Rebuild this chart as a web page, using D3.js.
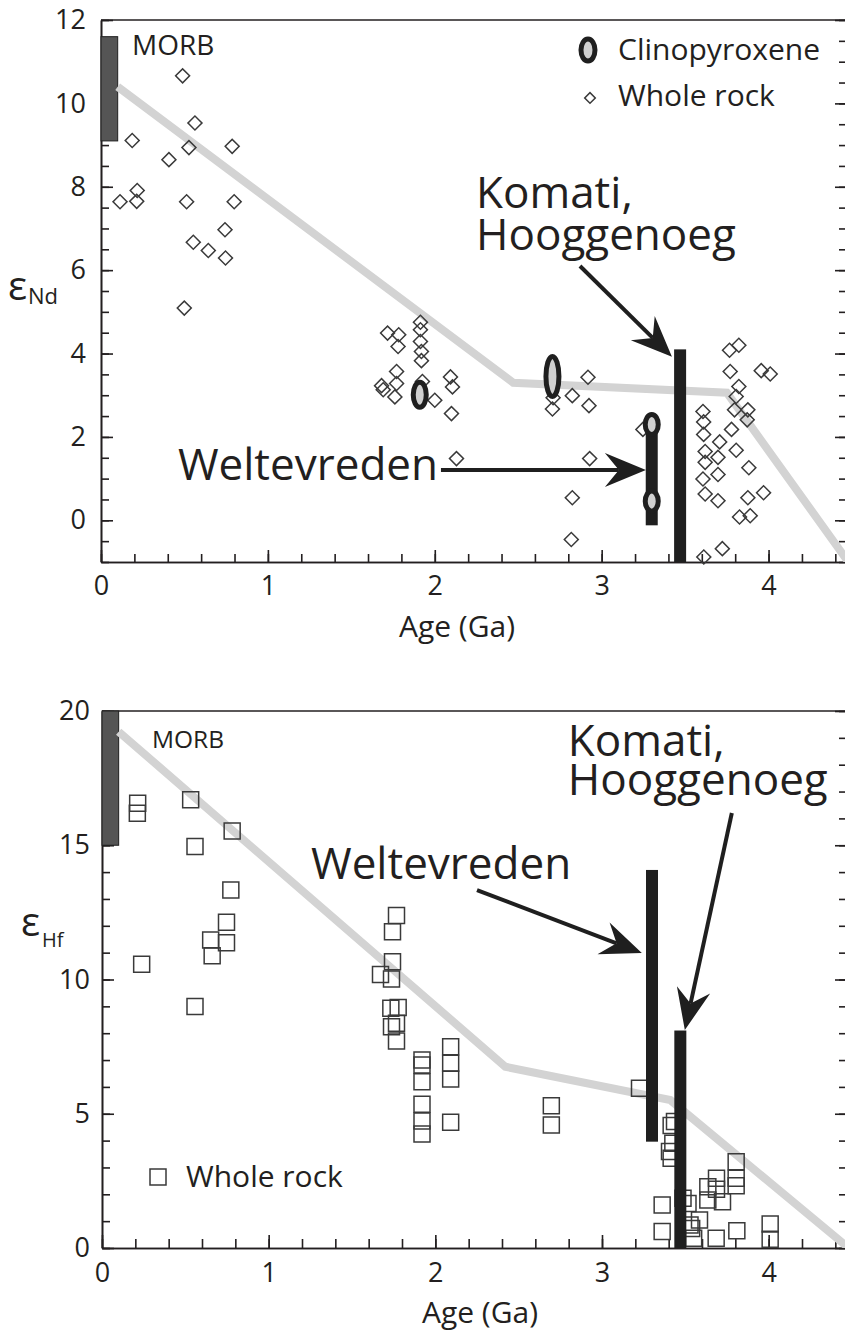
<!DOCTYPE html>
<html>
<head>
<meta charset="utf-8">
<script src="https://cdn.jsdelivr.net/npm/d3@7"></script>
<style>
  body { margin: 0; background: #fff; }
  svg { display: block; font-family: "Open Sans", sans-serif; }
  .axis path, .axis line { stroke: #231f20; stroke-width: 1.6px; }
  .axis text { font-size: 27px; fill: #231f20; font-family: "Open Sans", sans-serif; }
  .frame { stroke: #231f20; stroke-width: 1.6px; }
  .dm { fill: none; stroke: #d3d3d3; stroke-width: 8px; }
  .wr { fill: none; stroke: #3a3a3a; stroke-width: 1.5px; }
  .bar { fill: #1f1f1f; }
  .cpx { fill: #d0d0d0; stroke: #1f1f1f; stroke-width: 5px; }
  .morb { fill: #555; stroke: #1f1f1f; stroke-width: 1px; }
  .lbl { fill: #231f20; }
  .arrow line { stroke: #1f1f1f; stroke-width: 4px; }
  .arrow path { fill: #1f1f1f; }
</style>
</head>
<body>
<svg id="chart" width="845" height="1331"></svg>
<script>
// ---- shared x axis (age, Ga) ----
const ageDomain = [0, 4.47];
const ageMajor = [0, 1, 2, 3, 4];
const ageMinor = d3.range(0, 4.41, 0.2);

// ---- top panel: eps Nd ----
const ndDomain = [-1, 12];
const ndMajor = [0, 2, 4, 6, 8, 10, 12];
const ndMinor = d3.range(-1, 12.01, 0.5);
const ndMorb = [9.1, 11.6];
const ndMantle = [[0.1, 10.4], [2.47, 3.3], [3.75, 3.06], [4.5, -1.12]];
const ndWholeRock = [
  [0.187, 9.11], [0.489, 10.66], [0.563, 9.53], [0.527, 8.94], [0.407, 8.65], [0.786, 8.97],
  [0.114, 7.64], [0.217, 7.91], [0.214, 7.65], [0.513, 7.64], [0.798, 7.64], [0.743, 6.97],
  [0.553, 6.67], [0.643, 6.47], [0.746, 6.29], [0.499, 5.09],
  [1.914, 4.75], [1.717, 4.49], [1.784, 4.45], [1.914, 4.57], [1.914, 4.29], [1.780, 4.17],
  [1.920, 4.05], [1.920, 3.83], [1.771, 3.57], [1.681, 3.23], [1.691, 3.13], [1.771, 3.28],
  [1.761, 2.96], [1.926, 3.33], [2.000, 2.88], [2.094, 3.44], [2.106, 3.20], [2.100, 2.56],
  [2.130, 1.48],
  [2.709, 2.94], [2.705, 2.67], [2.824, 2.99], [2.824, 0.54], [2.818, -0.46], [2.918, 3.43],
  [2.924, 2.75], [2.928, 1.48], [3.247, 2.18],
  [3.766, 4.08], [3.822, 4.20], [3.770, 3.57], [3.956, 3.59], [4.010, 3.51], [3.822, 3.21],
  [3.806, 2.97], [3.796, 2.65], [3.876, 2.65], [3.872, 2.41], [3.607, 2.61], [3.611, 2.36],
  [3.611, 2.06], [3.778, 2.18], [3.707, 1.88], [3.620, 1.65], [3.697, 1.51], [3.806, 1.68],
  [3.620, 1.39], [3.697, 1.10], [3.607, 0.99], [3.882, 1.26], [3.620, 0.63], [3.697, 0.47],
  [3.876, 0.54], [3.970, 0.66], [3.826, 0.08], [3.890, 0.11], [3.723, -0.68], [3.612, -0.88]
];
// age, eps, half height of the ellipse
const ndCpx = [[1.91, 3.01, 0.30], [2.705, 3.45, 0.48], [3.30, 2.30, 0.24], [3.30, 0.46, 0.24]];
// age, low, high
const ndRanges = [[3.30, -0.12, 2.30], [3.47, -1, 4.1]];

// ---- bottom panel: eps Hf ----
const hfDomain = [0, 20];
const hfMajor = [0, 5, 10, 15, 20];
const hfMinor = d3.range(0, 20.01, 1);
const hfMorb = [15, 20];
const hfMantle = [[0.1, 19.23], [2.42, 6.75], [3.41, 5.51], [4.5, -0.1]];
const hfWholeRock = [
  [0.214, 16.56], [0.212, 16.19], [0.532, 16.69], [0.558, 14.95], [0.781, 15.53], [0.773, 13.33],
  [0.747, 12.13], [0.747, 11.37], [0.652, 11.47], [0.661, 10.88], [0.238, 10.57], [0.558, 8.99],
  [1.767, 12.38], [1.743, 11.78], [1.743, 10.66], [1.671, 10.19], [1.737, 10.02], [1.777, 8.96],
  [1.733, 8.93], [1.767, 8.37], [1.737, 8.24], [1.767, 7.71],
  [1.92, 7.00], [1.92, 6.82], [1.92, 6.19], [1.92, 5.35], [1.92, 4.73], [1.92, 4.25],
  [2.092, 7.50], [2.092, 6.88], [2.092, 6.29], [2.092, 4.68], [2.696, 5.30], [2.696, 4.58],
  [3.225, 5.95], [3.435, 4.71], [3.415, 4.56], [3.425, 3.90], [3.405, 3.59], [3.415, 3.34],
  [3.361, 1.60], [3.361, 0.61], [3.486, 1.85], [3.516, 1.66], [3.528, 0.86], [3.538, 0.73],
  [3.585, 1.04], [3.550, 0.36], [3.635, 2.28], [3.635, 1.79], [3.687, 2.60], [3.687, 2.19],
  [3.723, 1.72], [3.805, 3.21], [3.805, 2.60], [3.805, 2.32], [3.685, 0.36], [3.809, 0.64],
  [4.009, 0.89], [4.009, 0.33]
];
const hfRanges = [[3.30, 3.96, 14.08], [3.47, 0, 8.1]];

const svg = d3.select("#chart");

function arrow(g, x, y, from, to) {
  const x1 = x(from[0]), y1 = y(from[1]), x2 = x(to[0]), y2 = y(to[1]);
  const len = Math.hypot(x2 - x1, y2 - y1), ux = (x2 - x1) / len, uy = (y2 - y1) / len;
  const L = 41, w = 17, notch = 27;
  const bx = x2 - ux * L, by = y2 - uy * L;
  const head = [[x2, y2], [bx - uy * w, by + ux * w], [x2 - ux * notch, y2 - uy * notch], [bx + uy * w, by - ux * w]];
  const a = g.append("g").attr("class", "arrow");
  a.append("line").attr("x1", x1).attr("y1", y1)
    .attr("x2", x2 - ux * notch).attr("y2", y2 - uy * notch);
  a.append("path").attr("d", "M" + head.join("L") + "Z");
}

function text(g, x, y, pos, str, size) {
  return g.append("text").attr("class", "lbl")
    .attr("x", x(pos[0])).attr("y", y(pos[1]))
    .style("font-size", size + "px").text(str);
}

function panel(p) {
  const x = d3.scaleLinear().domain(ageDomain).range([p.left, p.right]);
  const y = d3.scaleLinear().domain(p.yDomain).range([p.bottom, p.top]);
  const g = svg.append("g");

  svg.append("clipPath").attr("id", "clip-" + p.id).append("rect")
    .attr("x", p.left).attr("y", p.top)
    .attr("width", p.right - p.left).attr("height", p.bottom - p.top);

  // axes, ticks pointing inward
  g.append("g").attr("class", "axis").attr("transform", `translate(0,${p.bottom})`)
    .call(d3.axisBottom(x).tickValues(ageMinor).tickSize(-p.xMinorLen).tickSizeOuter(0).tickFormat(""));
  g.append("g").attr("class", "axis").attr("transform", `translate(0,${p.bottom})`)
    .call(d3.axisBottom(x).tickValues(ageMajor).tickSize(-p.xMajorLen).tickSizeOuter(0)
      .tickPadding(p.xPad).tickFormat(d3.format("d")));
  g.append("g").attr("class", "axis").attr("transform", `translate(${p.left},0)`)
    .call(d3.axisLeft(y).tickValues(p.yMinor).tickSize(-8).tickSizeOuter(0).tickFormat(""));
  g.append("g").attr("class", "axis").attr("transform", `translate(${p.left},0)`)
    .call(d3.axisLeft(y).tickValues(p.yMajor).tickSize(-12).tickSizeOuter(0)
      .tickPadding(p.yPad).tickFormat(d3.format("d")));
  g.append("g").attr("class", "axis").attr("transform", `translate(${p.right},0)`)
    .call(d3.axisRight(y).tickValues(p.yMinor).tickSize(-8).tickSizeOuter(0).tickFormat(""));
  g.append("g").attr("class", "axis").attr("transform", `translate(${p.right},0)`)
    .call(d3.axisRight(y).tickValues(p.yMajor).tickSize(-12).tickSizeOuter(0).tickFormat(""));
  g.append("line").attr("class", "frame")
    .attr("x1", p.left).attr("x2", p.right).attr("y1", p.top).attr("y2", p.top);

  // MORB range
  g.append("rect").attr("class", "morb")
    .attr("x", x(0)).attr("width", x(0.1) - x(0))
    .attr("y", y(p.morb[1])).attr("height", y(p.morb[0]) - y(p.morb[1]));

  // depleted mantle evolution
  g.append("path").datum(p.mantle).attr("class", "dm")
    .attr("clip-path", `url(#clip-${p.id})`)
    .attr("d", d3.line().x(d => x(d[0])).y(d => y(d[1])));

  // whole rock
  const sym = d3.symbol(p.symbol, p.symbolSize);
  g.append("g").selectAll("path").data(p.wholeRock).join("path")
    .attr("class", "wr")
    .attr("transform", d => `translate(${x(d[0])},${y(d[1])}) rotate(${p.rotate})`)
    .attr("d", sym);

  // komati / weltevreden ranges
  g.append("g").selectAll("rect").data(p.ranges).join("rect")
    .attr("class", "bar")
    .attr("x", d => x(d[0]) - 6).attr("width", 12)
    .attr("y", d => y(d[2])).attr("height", d => y(d[1]) - y(d[2]));

  // clinopyroxene
  if (p.cpx) {
    g.append("g").selectAll("ellipse").data(p.cpx).join("ellipse")
      .attr("class", "cpx")
      .attr("cx", d => x(d[0])).attr("cy", d => y(d[1]))
      .attr("rx", 6.5).attr("ry", d => y(d[1] - d[2]) - y(d[1]));
  }

  // axis labels
  g.append("text").attr("class", "lbl").attr("text-anchor", "middle")
    .attr("x", p.titleX).attr("y", p.bottom + 75).style("font-size", "30px").text("Age (Ga)");
  g.append("text").attr("class", "lbl")
    .attr("x", p.epsX).attr("y", p.epsY).style("font-size", "40px").text("\u03b5");
  g.append("text").attr("class", "lbl")
    .attr("x", p.subX).attr("y", p.subY).style("font-size", p.subSize + "px").text(p.sub);

  return { g, x, y };
}

// ---------- top panel ----------
const ndPanel = panel({
  id: "nd", left: 101, right: 847, top: 20, bottom: 562,
  yDomain: ndDomain, yMajor: ndMajor, yMinor: ndMinor,
  xMajorLen: 12, xMinorLen: 8, xPad: 14, yPad: 15,
  morb: ndMorb, mantle: ndMantle, wholeRock: ndWholeRock,
  symbol: d3.symbolSquare, symbolSize: 98, rotate: 45,
  ranges: ndRanges, cpx: ndCpx,
  titleX: 457, epsX: 8, epsY: 300, sub: "Nd", subX: 28, subY: 304, subSize: 22
});
{
  const { g, x, y } = ndPanel;
  text(g, x, y, [0.186, 11.16], "MORB", 28);
  text(g, x, y, [2.247, 7.49], "Komati,", 44);
  text(g, x, y, [2.247, 6.48], "Hooggenoeg", 44);
  text(g, x, y, [0.461, 0.967], "Weltevreden", 44);
  arrow(g, x, y, [2.870, 6.10], [3.421, 3.92]);
  arrow(g, x, y, [2.037, 1.207], [3.265, 1.207]);
  // legend
  g.append("ellipse").attr("class", "cpx")
    .attr("cx", x(2.918)).attr("cy", y(11.28)).attr("rx", 7).attr("ry", 11);
  text(g, x, y, [3.098, 11.04], "Clinopyroxene", 30);
  g.append("path").attr("class", "wr")
    .attr("transform", `translate(${x(2.930)},${y(10.13)}) rotate(45)`)
    .attr("d", d3.symbol(d3.symbolSquare, 56));
  text(g, x, y, [3.098, 9.94], "Whole rock", 30);
}

// ---------- bottom panel ----------
const hfPanel = panel({
  id: "hf", left: 102, right: 847, top: 711, bottom: 1248,
  yDomain: hfDomain, yMajor: hfMajor, yMinor: hfMinor,
  xMajorLen: 13, xMinorLen: 9, xPad: 15, yPad: 12,
  morb: hfMorb, mantle: hfMantle, wholeRock: hfWholeRock,
  symbol: d3.symbolSquare, symbolSize: 256, rotate: 0,
  ranges: hfRanges, cpx: null,
  titleX: 480, epsX: 21, epsY: 936, sub: "Hf", subX: 42, subY: 947, subSize: 20
});
{
  const { g, x, y } = hfPanel;
  text(g, x, y, [0.300, 18.62], "MORB", 24.5);
  text(g, x, y, [1.254, 13.74], "Weltevreden", 44);
  text(g, x, y, [2.795, 18.32], "Komati,", 44);
  text(g, x, y, [2.795, 16.87], "Hooggenoeg", 44);
  arrow(g, x, y, [2.250, 13.33], [3.239, 10.99]);
  arrow(g, x, y, [3.779, 16.20], [3.497, 8.12]);
  g.append("path").attr("class", "wr")
    .attr("transform", `translate(${x(0.336)},${y(2.64)})`)
    .attr("d", d3.symbol(d3.symbolSquare, 256));
  text(g, x, y, [0.504, 2.27], "Whole rock", 30);
}
</script>
</body>
</html>
